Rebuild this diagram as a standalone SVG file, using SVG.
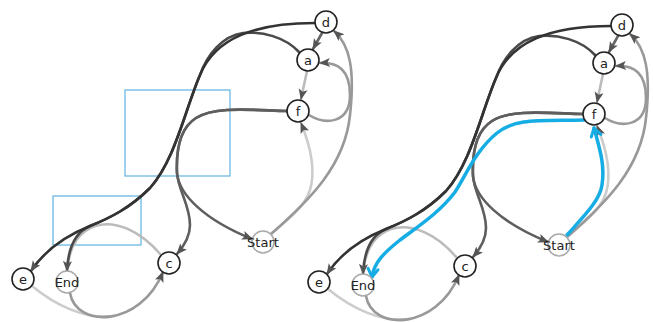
<svg xmlns="http://www.w3.org/2000/svg" width="653" height="322" viewBox="0 0 653 322">
<style>
.e{fill:none;stroke-width:2.6;stroke-linecap:round}
.n circle{fill:#fff;stroke:#222;stroke-width:1.6}
.n.s circle{stroke:#aaa}
.n text{font-family:"DejaVu Sans",Verdana,sans-serif;font-size:13px;fill:#222;text-anchor:middle}
.blue{fill:none;stroke:#16ace4;stroke-width:3.5;stroke-linecap:round;stroke-linejoin:round}
.box{fill:none;stroke:#6cb8e4;stroke-width:1.3}
</style>
<defs>
<marker id="ar" markerUnits="userSpaceOnUse" markerWidth="12" markerHeight="10" refX="10" refY="4.5" orient="auto" overflow="visible">
<path d="M0,0 L11,4.5 L0,9 L2.5,4.5 z" fill="#555"/>
</marker>
<marker id="bv" markerUnits="userSpaceOnUse" markerWidth="12" markerHeight="12" refX="8" refY="5" orient="auto" overflow="visible">
<path d="M0,0 L8,5 L0,10" fill="none" stroke="#16ace4" stroke-width="3" stroke-linecap="round" stroke-linejoin="round"/>
</marker>
<g id="edges">
<path class="e" stroke="#ccc" d="M271,234 C290,218 305,206 310,190 C316,170 310,145 301,123" marker-end="url(#ar)"/>
<path class="e" stroke="#999" d="M271,234 C310,200 345,165 350,115 C355,70 350,45 334,31" marker-end="url(#ar)"/>
<path class="e" stroke="#999" d="M309,115 C325,125 350,124 350,95 C350,70 338,62 320,63" marker-end="url(#ar)"/>
<path class="e" stroke="#bbb" d="M307,71 L301,99" marker-end="url(#ar)"/>
<path class="e" stroke="#666" d="M322,33 L313,49" marker-end="url(#ar)"/>
<path class="e" stroke="#ccc" d="M32,286 C55,305 85,320 115,316"/>
<path class="e" stroke="#999" d="M70,293 C76,328 140,328 163,272" marker-end="url(#ar)"/>
<path class="e" stroke="#bbb" d="M161,255 C140,230 115,220 95,226 C80,231 70,245 68,265"/>
<path class="e" stroke="#5e5e5e" d="M287,111 C250,110 215,106 196,118 C180,128 176,150 177,173 C179,195 205,220 252,239" marker-end="url(#ar)"/>
<path class="e" stroke="#5e5e5e" d="M287,111 C250,110 215,106 196,118 C180,128 176,150 177,173 C178,190 190,205 190,225 C190,237 184,246 177,254" marker-end="url(#ar)"/>
<path class="e" stroke="#4a4a4a" d="M299,52 C285,37 262,31 243,33 C222,36 207,55 200,75 C185,110 175,160 150,188 C130,208 110,218 90,226 C76,232 68,248 67,271" marker-end="url(#ar)"/>
<path class="e" stroke="#333" stroke-width="3" d="M315,23 C255,23 215,38 200,75 C185,110 175,160 150,188 C130,208 110,218 90,226 C65,236 45,250 31,271" marker-end="url(#ar)"/>
</g>
</defs>
<rect class="box" x="125" y="90" width="105" height="86"/>
<rect class="box" x="53" y="196" width="88" height="49"/>
<g id="left">
<use href="#edges"/>
<g id="l-d" class="n"><circle cx="326" cy="22" r="11"/><text x="326" y="26.5">d</text></g>
<g id="l-a" class="n"><circle cx="308" cy="60" r="11"/><text x="308" y="64.5">a</text></g>
<g id="l-f" class="n"><circle cx="298" cy="111" r="11"/><text x="298" y="115.5">f</text></g>
<g id="l-start" class="n s"><circle cx="263" cy="242" r="11"/><text x="263" y="246.5">Start</text></g>
<g id="l-e" class="n"><circle cx="23" cy="279" r="11"/><text x="23" y="283.5">e</text></g>
<g id="l-end" class="n s"><circle cx="67" cy="282" r="11"/><text x="67" y="286.5">End</text></g>
<g id="l-c" class="n"><circle cx="169" cy="263" r="11"/><text x="169" y="267.5">c</text></g>
</g>
<g id="right" transform="translate(296,3)">
<use href="#edges"/>
<g id="path-highlight">
<path class="blue" d="M271,232 C289,212 304,197 306,182 C309,162 304,147 298,125" marker-end="url(#bv)"/>
<path class="blue" d="M288,117 C244,118 219,115 201,130 C180,147 170,172 159,189 C144,209 124,222 104,237 C89,249 78,259 76,274" marker-end="url(#bv)"/>
</g>
<g id="r-d" class="n"><circle cx="326" cy="22" r="11"/><text x="326" y="26.5">d</text></g>
<g id="r-a" class="n"><circle cx="308" cy="60" r="11"/><text x="308" y="64.5">a</text></g>
<g id="r-f" class="n"><circle cx="298" cy="111" r="11"/><text x="298" y="115.5">f</text></g>
<g id="r-start" class="n s"><circle cx="263" cy="242" r="11"/><text x="263" y="246.5">Start</text></g>
<g id="r-e" class="n"><circle cx="23" cy="279" r="11"/><text x="23" y="283.5">e</text></g>
<g id="r-end" class="n s"><circle cx="67" cy="282" r="11"/><text x="67" y="286.5">End</text></g>
<g id="r-c" class="n"><circle cx="169" cy="263" r="11"/><text x="169" y="267.5">c</text></g>
</g>
</svg>
